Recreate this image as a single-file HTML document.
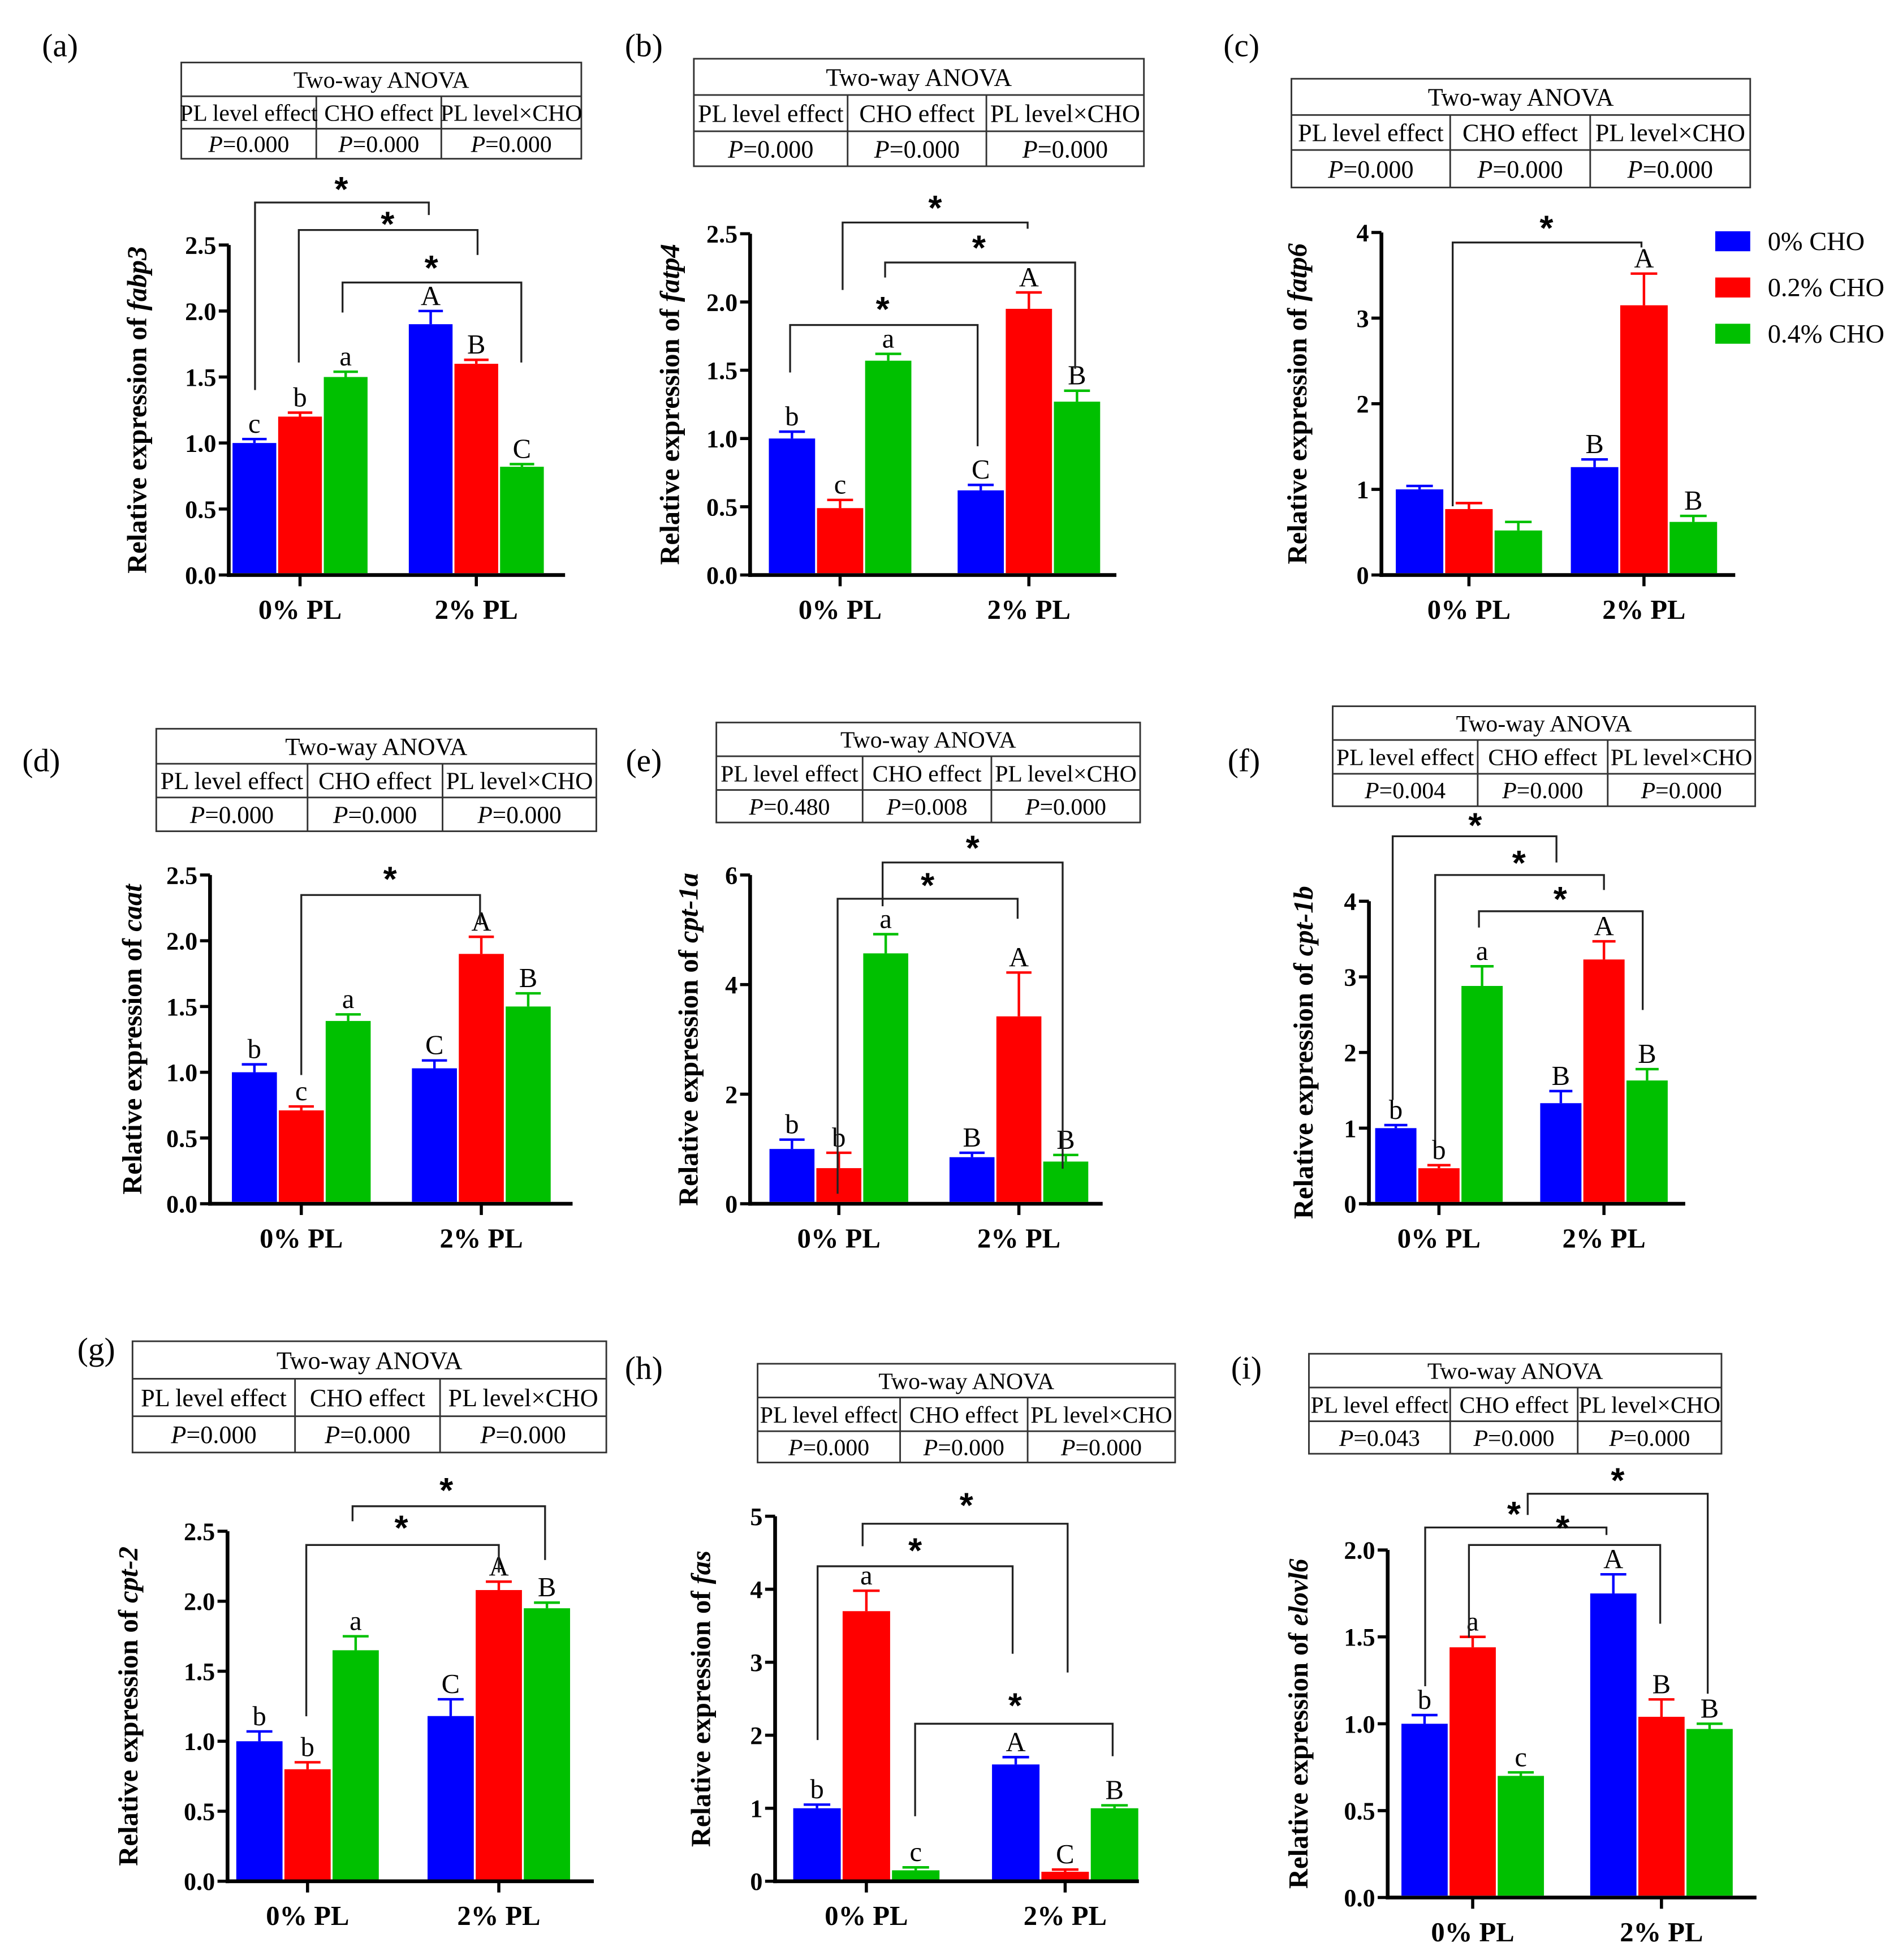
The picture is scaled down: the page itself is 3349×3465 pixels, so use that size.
<!DOCTYPE html>
<html><head><meta charset="utf-8"><style>
html,body{margin:0;padding:0;background:#fff;}
svg{display:block;font-family:"Liberation Serif",serif;}
</style></head><body>
<svg id="fig" width="3349" height="3465" viewBox="0 0 1515 1568" preserveAspectRatio="none" xmlns="http://www.w3.org/2000/svg"></svg>
<script>
const groups=["0% PL","2% PL"];
const series=["0% CHO","0.2% CHO","0.4% CHO"];
const colors=["#0000ff","#ff0000","#00c000"];
const fabp3_0=[1.0,1.2,1.5], fabp3_2=[1.9,1.6,0.82], fabp3_e0=[0.03,0.03,0.04], fabp3_e2=[0.1,0.03,0.02], fabp3_L=["c","b","a","A","B","C"];
const fatp4_0=[1.0,0.49,1.57], fatp4_2=[0.62,1.95,1.27], fatp4_e0=[0.05,0.06,0.05], fatp4_e2=[0.04,0.12,0.08], fatp4_L=["b","c","a","C","A","B"];
const fatp6_0=[1.0,0.77,0.52], fatp6_2=[1.26,3.15,0.62], fatp6_e0=[0.04,0.07,0.1], fatp6_e2=[0.09,0.37,0.07], fatp6_L=["","","","B","A","B"];
const caat_0=[1.0,0.71,1.39], caat_2=[1.03,1.9,1.5], caat_e0=[0.06,0.03,0.05], caat_e2=[0.06,0.13,0.1], caat_L=["b","c","a","C","A","B"];
const cpt1a_0=[1.0,0.65,4.57], cpt1a_2=[0.85,3.42,0.77], cpt1a_e0=[0.17,0.28,0.35], cpt1a_e2=[0.08,0.8,0.12], cpt1a_L=["b","b","a","B","A","B"];
const cpt1b_0=[1.0,0.47,2.88], cpt1b_2=[1.33,3.23,1.63], cpt1b_e0=[0.04,0.04,0.26], cpt1b_e2=[0.16,0.24,0.15], cpt1b_L=["b","b","a","B","A","B"];
const cpt2_0=[1.0,0.8,1.65], cpt2_2=[1.18,2.08,1.95], cpt2_e0=[0.07,0.05,0.1], cpt2_e2=[0.12,0.06,0.04], cpt2_L=["b","b","a","C","A","B"];
const fas_0=[1.0,3.7,0.15], fas_2=[1.6,0.13,1.0], fas_e0=[0.05,0.28,0.04], fas_e2=[0.1,0.03,0.04], fas_L=["b","a","c","A","C","B"];
const elovl6_0=[1.0,1.44,0.7], elovl6_2=[1.75,1.04,0.97], elovl6_e0=[0.05,0.06,0.02], elovl6_e2=[0.11,0.1,0.03], elovl6_L=["b","a","c","A","B","B"];
const a_ticks=["0.0","0.5","1.0","1.5","2.0","2.5"];
const c_ticks=["0","1","2","3","4"];
const e_ticks=["0","2","4","6"];
const h_ticks=["0","1","2","3","4","5"];
const i_ticks=["0.0","0.5","1.0","1.5","2.0"];
const pA=["P=0.000","P=0.000","P=0.000"];
const pE=["P=0.480","P=0.008","P=0.000"];
const pF=["P=0.004","P=0.000","P=0.000"];
const pI=["P=0.043","P=0.000","P=0.000"];

const NS="http://www.w3.org/2000/svg";
const svg=document.getElementById('fig');
function mk(tag,attrs,parent){const e=document.createElementNS(NS,tag);for(const k in attrs)e.setAttribute(k,attrs[k]);(parent||svg).appendChild(e);return e;}

const panels=[
 {id:"a",gene:"fabp3",m:[fabp3_0,fabp3_2],e:[fabp3_e0,fabp3_e2],L:fabp3_L,ticks:a_ticks,p:pA,lab:[48,45],
  tbl:[145,465,50,77,103,127,253,353],ax:[183,452,460,196],gx:[240,381],bw:35,yt:117,
  br:[[204,312,162,343,172,273,145],[239,290,184,382,204,310,173],[274,250,226,417,290,345,208]]},
 {id:"b",gene:"fatp4",m:[fatp4_0,fatp4_2],e:[fatp4_e0,fatp4_e2],L:fatp4_L,ticks:a_ticks,p:pA,lab:[515,45],
  tbl:[555,915,47,76,105,133,678,789],ax:[600,893,460,187],gx:[672,823],bw:37,yt:543,
  br:[[674,232,178,822,183,748,160],[708,222,210,860,295,783,192],[632,298,260,782,357,706,241]]},
 {id:"c",gene:"fatp6",m:[fatp6_0,fatp6_2],e:[fatp6_e0,fatp6_e2],L:fatp6_L,ticks:c_ticks,p:pA,lab:[993,45],
  tbl:[1033,1400,63,92,120,150,1160,1272],ax:[1105,1388,460,186],gx:[1175,1315],bw:38,yt:1045,
  br:[[1162,405,194,1313,198,1237,176]]},
 {id:"d",gene:"caat",m:[caat_0,caat_2],e:[caat_e0,caat_e2],L:caat_L,ticks:a_ticks,p:pA,lab:[33,617],
  tbl:[125,477,583,611,638,665,246,354],ax:[168,458,963,700],gx:[241,385],bw:36,yt:113,
  br:[[241,860,716,384,740,312,697]]},
 {id:"e",gene:"cpt-1a",m:[cpt1a_0,cpt1a_2],e:[cpt1a_e0,cpt1a_e2],L:cpt1a_L,ticks:e_ticks,p:pE,lab:[515,617],
  tbl:[573,912,578,605,632,658,690,793],ax:[600,882,963,700],gx:[671,815],bw:36,yt:558,
  br:[[706,725,690,850,935,778,672],[670,955,719,814,735,742,702]]},
 {id:"f",gene:"cpt-1b",m:[cpt1b_0,cpt1b_2],e:[cpt1b_e0,cpt1b_e2],L:cpt1b_L,ticks:c_ticks,p:pF,lab:[995,617],
  tbl:[1066,1404,565,592,619,645,1182,1286],ax:[1095,1348,963,721],gx:[1151,1283],bw:33,yt:1050,
  br:[[1114,880,669,1245,690,1180,654],[1148,912,700,1283,712,1215,684],[1183,742,729,1314,808,1248,713]]},
 {id:"g",gene:"cpt-2",m:[cpt2_0,cpt2_2],e:[cpt2_e0,cpt2_e2],L:cpt2_L,ticks:a_ticks,p:pA,lab:[77,1088],
  tbl:[106,485,1073,1103,1133,1162,236,352],ax:[182,475,1505,1225],gx:[246,399],bw:37,yt:110,
  br:[[282,1217,1205,436,1248,357,1186],[245,1373,1236,399,1258,321,1216]]},
 {id:"h",gene:"fas",m:[fas_0,fas_2],e:[fas_e0,fas_e2],L:fas_L,ticks:h_ticks,p:pA,lab:[515,1103],
  tbl:[606,940,1091,1118,1145,1170,720,822],ax:[620,911,1505,1213],gx:[693,852],bw:38,yt:568,
  br:[[690,1237,1219,854,1338,773,1198],[654,1392,1253,810,1323,732,1234],[732,1453,1379,890,1405,812,1358]]},
 {id:"i",gene:"elovl6",m:[elovl6_0,elovl6_2],e:[elovl6_e0,elovl6_e2],L:elovl6_L,ticks:i_ticks,p:pI,lab:[997,1103],
  tbl:[1047,1377,1083,1110,1137,1163,1160,1262],ax:[1110,1405,1518,1240],gx:[1178,1329],bw:37,yt:1046,
  br:[[1140,1349,1222,1285,1228,1211,1205],[1175,1310,1236,1328,1299,1250,1216],[1222,1212,1195,1366,1355,1294,1178]]}
];

panels.forEach(P=>{
  const g=mk('g',{});
  
  
  const lab=mk('text',{x:P.lab[0],y:P.lab[1],'font-size':26,'text-anchor':'middle'},g);
  lab.textContent='('+P.id+')';
  
  
  const [x0,x1,r0,r1,r2,r3,c1,c2]=P.tbl;
  const tg=mk('g',{stroke:'#333','stroke-width':1.3,fill:'none'},g);
  
  
  mk('rect',{x:x0,y:r0,width:x1-x0,height:r3-r0},tg);
  mk('line',{x1:x0,x2:x1,y1:r1,y2:r1},tg);
  mk('line',{x1:x0,x2:x1,y1:r2,y2:r2},tg);
  mk('line',{x1:c1,x2:c1,y1:r1,y2:r3},tg);
  mk('line',{x1:c2,x2:c2,y1:r1,y2:r3},tg);
  const rh=r1-r0, fs=Math.min(20,rh*0.7);
  const t0=mk('text',{x:(x0+x1)/2,y:(r0+r1)/2+fs*0.35,'font-size':fs,'text-anchor':'middle'},g);
  t0.textContent='Two-way ANOVA';
  const cx=[(x0+c1)/2,(c1+c2)/2,(c2+x1)/2];
  const heads=['PL level effect','CHO effect','PL level×CHO'];
  for(let k=0;k<3;k++){
    const h=mk('text',{x:cx[k],y:(r1+r2)/2+fs*0.35,'font-size':fs,'text-anchor':'middle'},g);
    h.textContent=heads[k];
    const pv=mk('text',{x:cx[k],y:(r2+r3)/2+fs*0.35,'font-size':fs,'text-anchor':'middle'},g);
    const it=mk('tspan',{'font-style':'italic'},pv); it.textContent='P';
    const rest=mk('tspan',{},pv); rest.textContent=P.p[k].slice(1);
  }
  const [ax0,ax1,y0,yTop]=P.ax;
  const ymax=parseFloat(P.ticks[P.ticks.length-1]);
  const Y=v=>y0-(v/ymax)*(y0-yTop);
  mk('line',{x1:ax0,x2:ax0,y1:y0+1.5,y2:yTop,stroke:'#000','stroke-width':3},g);
  mk('line',{x1:ax0-1.5,x2:ax1,y1:y0,y2:y0,stroke:'#000','stroke-width':3},g);
  P.ticks.forEach(t=>{
    const v=parseFloat(t), yy=Y(v);
    mk('line',{x1:ax0-8,x2:ax0,y1:yy,y2:yy,stroke:'#000','stroke-width':2.5},g);
    const tt=mk('text',{x:ax0-10,y:yy+7,'font-size':20,'font-weight':'bold','text-anchor':'end'},g);
    tt.textContent=t;
    
    
  });
  groups.forEach((gn,gi)=>{
    const gx=P.gx[gi];
    mk('line',{x1:gx,x2:gx,y1:y0,y2:y0+9,stroke:'#000','stroke-width':2.5},g);
    const xl=mk('text',{x:gx,y:y0+35,'font-size':22,'font-weight':'bold','text-anchor':'middle'},g);
    xl.textContent=gn;
    
    
    series.forEach((s,si)=>{
      const v=P.m[gi][si], er=P.e[gi][si];
      const bx=gx+(si-1)*(P.bw+1.5)-P.bw/2;
      const r=mk('rect',{x:bx,y:Y(v),width:P.bw,height:y0-1.5-Y(v),fill:colors[si]},g);
      
      
      const bc=bx+P.bw/2, ye=Y(v+er);
      mk('line',{x1:bc,x2:bc,y1:Y(v),y2:ye,stroke:colors[si],'stroke-width':2},g);
      mk('line',{x1:bc-P.bw*0.28,x2:bc+P.bw*0.28,y1:ye,y2:ye,stroke:colors[si],'stroke-width':2},g);
      const lt=P.L[gi*3+si];
      if(lt){
        const l=mk('text',{x:bc,y:ye-5,'font-size':22,'text-anchor':'middle'},g);
        l.textContent=lt;
        
        
      }
    });
  });
  const yc=(y0+yTop)/2;
  const yt=mk('text',{x:P.yt,y:yc,'font-size':22,'font-weight':'bold','text-anchor':'middle',transform:`rotate(-90 ${P.yt} ${yc})`},g);
  
  
  const s1=mk('tspan',{},yt); s1.textContent='Relative expression of ';
  const s2=mk('tspan',{'font-style':'italic'},yt); s2.textContent=P.gene;
  P.br.forEach(b=>{
    const [lx,ly,ty,rx,ry,sx,sy]=b;
    const pl=mk('polyline',{points:`${lx},${ly} ${lx},${ty} ${rx},${ty} ${rx},${ry}`,fill:'none',stroke:'#222','stroke-width':1.5},g);
    
    
    const st=mk('text',{x:sx,y:sy+16,'font-size':28,'font-weight':'bold','text-anchor':'middle','font-family':'Liberation Sans, sans-serif'},g);
    st.textContent='*';
  });
});
const lg=mk('g',{});


series.forEach((s,si)=>{
  const yy=185+si*37;
  const sw=mk('rect',{x:1372,y:yy,width:28,height:16,fill:colors[si]},lg);
  
  
  const t=mk('text',{x:1414,y:yy+15,'font-size':21},lg);
  t.textContent=s;
  
  
});
</script>
</body></html>
